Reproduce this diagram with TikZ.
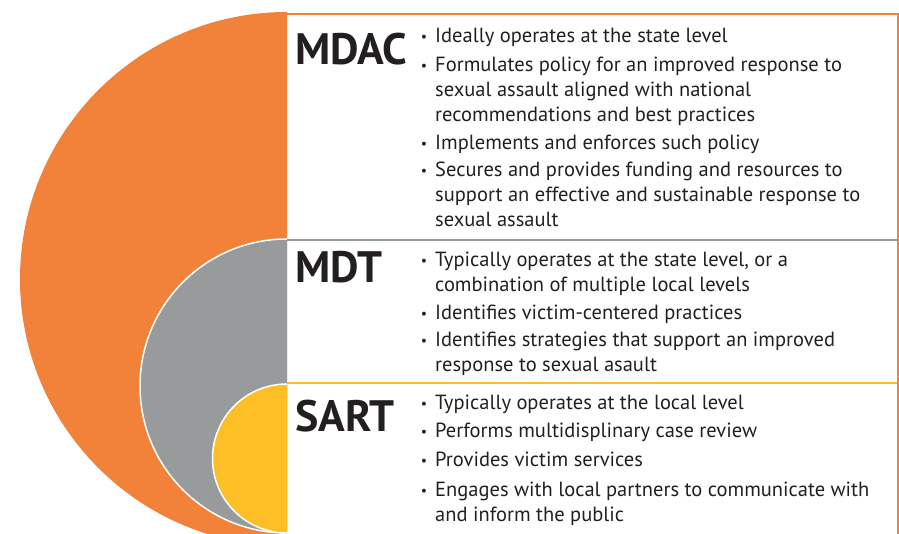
\documentclass[tikz,border=0pt]{standalone}
\usepackage{fontspec}
\setmainfont{PT Sans}
\definecolor{mdacorange}{RGB}{242,130,58}
\definecolor{mdtgray}{RGB}{152,155,156}
\definecolor{sartyellow}{RGB}{253,190,38}
\definecolor{ink}{RGB}{35,31,32}
\tikzset{
  head/.style={anchor=base west, inner sep=0pt, text=ink, font=\bfseries\fontsize{44}{44}\selectfont},
  item/.style={anchor=base west, inner sep=0pt, align=left, text=ink, font=\fontsize{20.5}{25}\selectfont},
  rule/.style={line width=2.5pt},
}
\newcommand{\bul}{\llap{\raisebox{1.5pt}{\fontsize{14}{14}\selectfont\textbullet}\hspace{8pt}}}

\begin{document}
\begin{tikzpicture}[x=1pt,y=1pt]
\useasboundingbox (0,0) rectangle (899,534);
\clip (0,0) rectangle (899,534);

\fill[mdacorange] (287,522) arc[start angle=90, end angle=270, radius=267] -- cycle;
\fill[mdtgray] (287,295) arc[start angle=90, end angle=270, radius=147] -- cycle;
\draw[white, line width=1.5pt] (287,295) arc[start angle=90, end angle=270, radius=147];
\fill[sartyellow] (287,150) arc[start angle=90, end angle=270, radius=74.5] -- cycle;
\draw[white, line width=1.5pt] (287,150) arc[start angle=90, end angle=270, radius=74.5];

\draw[rule, mdacorange] (287,520) -- (898,520);
\draw[rule, mdtgray] (287,294) -- (898,294);
\draw[rule, sartyellow] (287,151) -- (898,151);
\draw[mdacorange, line width=1.2pt] (898,521) -- (898,0);

\node[head] (mdac) at (295,469) {MDAC};
\node[head] (mdt) at (295,251) {MDT};
\node[head] (sart) at (295,102) {SART};

% multi-line items sit on the baseline of their last line
\node[item] (a1) at (435,491) {\bul Ideally operates at the state level};
\node[item] (a2) at (435,412) {\bul Formulates policy for an improved response to\\sexual assault aligned with national\\recommendations and best practices};
\node[item] (a3) at (435,384) {\bul Implements and enforces such policy};
\node[item] (a4) at (435,307) {\bul Secures and provides funding and resources to\\support an effective and sustainable response to\\sexual assault};

\node[item] (b1) at (435,242) {\bul Typically operates at the state level, or a\\combination of multiple local levels};
\node[item] (b2) at (435,214) {\bul Identifies victim-centered practices};
\node[item] (b3) at (435,162) {\bul Identifies strategies that support an improved\\response to sexual asault};

\node[item] (c1) at (435,124) {\bul Typically operates at the local level};
\node[item] (c2) at (435,96) {\bul Performs multidisplinary case review};
\node[item] (c3) at (435,67) {\bul Provides victim services};
\node[item] (c4) at (435,12) {\bul Engages with local partners to communicate with\\and inform the public};
\end{tikzpicture}
\end{document}
